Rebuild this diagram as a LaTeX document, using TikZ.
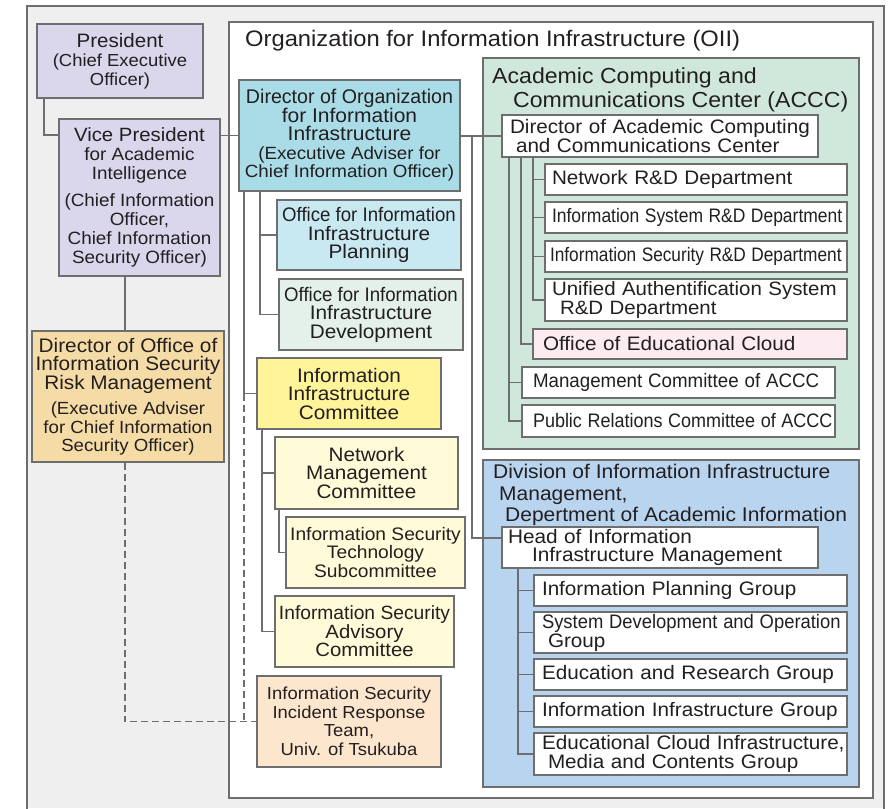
\documentclass[tikz,border=0pt]{standalone}
\usepackage{fontspec}
\setmainfont{Liberation Sans}[FakeStretch=1.06]
\usepackage{graphicx}
\newcommand\sq[2]{\scalebox{#1}[1]{#2}}
\newcommand\fs[2]{\fontsize{#1}{#2}\selectfont}
\definecolor{lc}{HTML}{6E6E6E}
\definecolor{txt}{HTML}{231F20}
\definecolor{bgc}{HTML}{EFEFEF}
\definecolor{lav}{HTML}{DAD6EB}
\definecolor{isrmc}{HTML}{F5DCA6}
\definecolor{dirc}{HTML}{A9DCE6}
\definecolor{oplanc}{HTML}{C8E8F2}
\definecolor{odevc}{HTML}{E3F1EA}
\definecolor{iicc}{HTML}{FFF499}
\definecolor{comc}{HTML}{FFFBD8}
\definecolor{isirtc}{HTML}{FDE6CE}
\definecolor{acccc}{HTML}{CFE8DB}
\definecolor{cloudc}{HTML}{FCEBF1}
\definecolor{divc}{HTML}{B9D4EE}
\begin{document}
\begin{tikzpicture}[x=1pt,y=-1pt,
  every node/.style={text=txt},
  bx/.style={draw=lc,line width=1.8pt,inner sep=0pt,align=center},
  lbx/.style={draw=lc,line width=1.8pt,inner ysep=0pt,align=left,fill=white},
  con/.style={draw=lc,line width=1.8pt},
  dsh/.style={draw=lc,line width=1.8pt,dash pattern=on 7pt off 4pt},
  box at/.style n args={4}{minimum width={#3-#1},minimum height={#4-#2},at={({(#1+#3)/2},{(#2+#4)/2})}}]
\useasboundingbox (0,0) rectangle (893,808);
% outer frame
\fill[bgc] (27,6) rectangle (884,808);
\draw[con] (27,810) -- (27,6) -- (884,6) -- (884,810);
\node[bx,fill=white,box at={229}{22}{873}{798}] (oii) {};
\node[anchor=base west,inner sep=0pt,font=\fs{22.4}{24}] (oiititle) at (245,47) {Organization for Information Infrastructure (OII)};
% containers
\node[bx,fill=acccc,box at={483}{58}{859}{449}] (accc) {};
\node[anchor=north west,inner sep=0pt,align=left,font=\fs{21.8}{24}] (accctitle) at (492,67.5) {Academic Computing and\\\hspace*{21pt}Communications Center (ACCC)};
\node[bx,fill=divc,box at={483}{460}{859}{787}] (div) {};
\node[anchor=north west,inner sep=0pt,align=left,font=\fs{19.8}{21.5}] (divtitle) at (493,464) {Division of Information Infrastructure\\\hspace*{6pt}Management,\\\hspace*{12pt}Depertment of Academic Information};
% left column
\node[bx,fill=lav,box at={37}{24}{203}{98},font=\fs{17.4}{19}] (pres) {{\fs{19.4}{19}President}\\(Chief Executive\\Officer)};
\node[bx,fill=lav,box at={59}{119}{220}{276},font=\fs{17.8}{19}] (vp) {{\fs{19.2}{19}Vice President}\\for Academic\\Intelligence\\[8pt](Chief Information\\Officer,\\Chief Information\\Security Officer)};
\node[bx,fill=isrmc,box at={32}{331}{224}{462},font=\fs{17.6}{18.2}] (isrm) {{\fs{19.6}{19}Director of Office of}\\{\fs{19.6}{19}Information Security}\\{\fs{19.6}{19}Risk Management}\\[7pt](Executive Adviser\\for Chief Information\\Security Officer)};
% middle column
\node[bx,fill=dirc,box at={239}{80}{460}{191},font=\fs{17.7}{18.5}] (dir) {{\fs{19.8}{18.5}\sq{0.934}{Director of Organization}}\\{\fs{19.8}{18.5}for Information}\\{\fs{19.8}{18.5}Infrastructure}\\(Executive Adviser for\\Chief Information Officer)};
\node[bx,fill=oplanc,box at={277}{200}{461}{270},font=\fs{19.6}{18.5}] (oplan) {\sq{0.897}{Office for Information}\\Infrastructure\\Planning};
\node[bx,fill=odevc,box at={279}{279}{463}{350},font=\fs{19.6}{18.5}] (odev) {\sq{0.897}{Office for Information}\\Infrastructure\\Development};
\node[bx,fill=iicc,box at={257}{358}{441}{429},font=\fs{19.6}{18.5}] (iic) {Information\\Infrastructure\\Committee};
\node[bx,fill=comc,box at={275}{437}{458}{509},font=\fs{19.5}{18.5}] (nmc) {Network\\Management\\Committee};
\node[bx,fill=comc,box at={286}{517}{465}{588},font=\fs{18.1}{18.5}] (ists) {Information Security\\Technology\\Subcommittee};
\node[bx,fill=comc,box at={275}{596}{454}{667},font=\fs{19.2}{18.5}] (isac) {\sq{0.945}{Information Security}\\Advisory\\Committee};
\node[bx,fill=isirtc,box at={257}{676}{441}{767},font=\fs{17.4}{18.5}] (isirt) {Information Security\\Incident Response\\Team,\\Univ. of Tsukuba};
% ACCC
\node[lbx,inner xsep=8pt,text width=300pt,box at={502}{115}{818}{157},font=\fs{19.5}{19}] (daccc) {\mbox{Director of Academic Computing}\\\hspace*{6pt}and Communications Center};
\node[lbx,inner xsep=7pt,text width=288pt,box at={545}{164}{847}{195},font=\fs{19.5}{19}] (net) {Network R\&D Department};
\node[lbx,inner xsep=7pt,text width=288pt,box at={545}{202}{847}{233},font=\fs{19.5}{19}] (isys) {\sq{0.845}{Information System R\&D Department}};
\node[lbx,inner xsep=5pt,text width=292pt,box at={545}{241}{847}{272},font=\fs{19.5}{19}] (isec) {\sq{0.835}{Information Security R\&D Department}};
\node[lbx,inner xsep=7pt,text width=288pt,box at={545}{279}{847}{321},font=\fs{19.3}{19}] (uni) {\mbox{Unified Authentification System}\\\hspace*{8pt}R\&D Department};
\node[lbx,fill=cloudc,inner xsep=10pt,text width=294pt,box at={533}{329}{847}{359},font=\fs{19.5}{19}] (cloud) {Office of Educational Cloud};
\node[lbx,inner xsep=8pt,text width=297pt,box at={522}{367}{835}{398},font=\fs{19.5}{19}] (mgmt) {\hspace*{3pt}\sq{0.906}{Management Committee of ACCC}};
\node[lbx,inner xsep=8pt,text width=297pt,box at={522}{405}{835}{437},font=\fs{19.5}{19}] (pr) {\hspace*{3pt}\sq{0.87}{Public Relations Committee of ACCC}};
% Division
\node[lbx,inner xsep=6pt,text width=304pt,box at={502}{527}{818}{568},font=\fs{19.6}{18.5}] (head) {Head of Information\\\hspace*{24pt}Infrastructure Management};
\node[lbx,inner xsep=8pt,text width=297pt,box at={534}{575}{847}{606},font=\fs{19.5}{19}] (plan) {Information Planning Group};
\node[lbx,inner xsep=8pt,text width=297pt,box at={534}{612}{847}{653},font=\fs{19.5}{19}] (sysd) {\sq{0.89}{System Development and Operation}\\\hspace*{6pt}Group};
\node[lbx,inner xsep=8pt,text width=297pt,box at={534}{659}{847}{690},font=\fs{19.5}{19}] (edur) {Education and Research Group};
\node[lbx,inner xsep=8pt,text width=297pt,box at={534}{696}{847}{727},font=\fs{19.5}{19}] (iinf) {\mbox{Information Infrastructure Group}};
\node[lbx,inner xsep=8pt,text width=297pt,box at={534}{733}{847}{775},font=\fs{19.5}{18.5}] (educ) {\mbox{Educational Cloud Infrastructure,}\\\hspace*{6pt}Media and Contents Group};
% connectors
\draw[con] ([xshift=8pt]pres.south west) |- ([yshift=-17pt]vp.north west);
\draw[con] (dir.west) -- (dir.west -| vp.east);
\draw[con] ([xshift=-3pt]isrm.north) -- ([xshift=-3pt]isrm.north |- vp.south);
\draw[dsh] ([xshift=-3pt]isrm.south) |- (isirt.west);
\coordinate (ta) at ([xshift=6pt]dir.south west);
\draw[con] (ta) |- (iic.west);
\draw[dsh] (ta |- iic.west) -- (ta |- isirt.west);
\coordinate (tb) at ([xshift=22pt]dir.south west);
\draw[con] (tb) |- (odev.west);
\draw[con] (tb |- oplan.west) -- (oplan.west);
\coordinate (tc) at ([xshift=6pt]iic.south west);
\draw[con] (tc) |- (isac.west);
\draw[con] (tc |- nmc.west) -- (nmc.west);
\draw[con] ([xshift=5pt]nmc.south west) |- (ists.west);
\draw[con] (daccc.west) -- (daccc.west -| dir.east);
\coordinate (td) at ([xshift=11pt]dir.east |- daccc.west);
\draw[con] (td) |- ([yshift=-12pt]head.north west);
\coordinate (te) at ([xshift=32pt]daccc.south west);
\draw[con] (te) |- (uni.west);
\foreach \n in {net,isys,isec} \draw[con] (te |- \n.west) -- (\n.west);
\coordinate (tf) at ([xshift=20pt]daccc.south west);
\draw[con] (tf) |- (cloud.west);
\coordinate (tg) at ([xshift=8pt]daccc.south west);
\draw[con] (tg) |- (pr.west);
\draw[con] (tg |- mgmt.west) -- (mgmt.west);
\coordinate (th) at ([xshift=17pt]head.south west);
\draw[con] (th) |- (educ.west);
\foreach \n in {plan,sysd,edur,iinf} \draw[con] (th |- \n.west) -- (\n.west);
\end{tikzpicture}
\end{document}
